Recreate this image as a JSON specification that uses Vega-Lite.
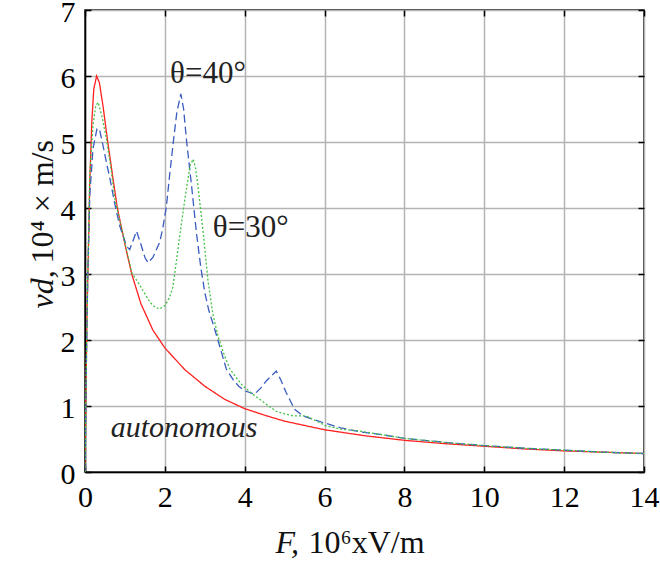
{
  "$schema": "https://vega.github.io/schema/vega-lite/v6.json",
  "width": 559,
  "height": 462,
  "autosize": {"type": "none"},
  "padding": {"left": 85, "top": 10, "right": 16, "bottom": 91},
  "background": "white",
  "config": {
    "view": {"stroke": "black", "strokeWidth": 1.5},
    "font": "Liberation Serif",
    "axis": {
      "labelFont": "Liberation Serif",
      "titleFont": "Liberation Serif",
      "labelFontSize": 30,
      "titleFontSize": 32,
      "labelColor": "black",
      "titleColor": "#111",
      "titleFontWeight": "normal",
      "domainColor": "black",
      "domainWidth": 1.5,
      "gridColor": "#b4b4b4",
      "gridWidth": 1.5,
      "gridOpacity": 1,
      "tickColor": "black",
      "tickWidth": 1.5
    }
  },
  "resolve": {"axis": {"x": "independent", "y": "independent"}},
  "datasets": {
    "curves": [
      {"s": "autonomous", "x": 0, "y": 0},
      {"s": "autonomous", "x": 0.02, "y": 1.0},
      {"s": "autonomous", "x": 0.05, "y": 2.4},
      {"s": "autonomous", "x": 0.08, "y": 3.2},
      {"s": "autonomous", "x": 0.12, "y": 4.4},
      {"s": "autonomous", "x": 0.17, "y": 5.3},
      {"s": "autonomous", "x": 0.22, "y": 5.8},
      {"s": "autonomous", "x": 0.29, "y": 6.0},
      {"s": "autonomous", "x": 0.36, "y": 5.9},
      {"s": "autonomous", "x": 0.45, "y": 5.55},
      {"s": "autonomous", "x": 0.57, "y": 5.0},
      {"s": "autonomous", "x": 0.7, "y": 4.45},
      {"s": "autonomous", "x": 0.81, "y": 4.0},
      {"s": "autonomous", "x": 1.0, "y": 3.45},
      {"s": "autonomous", "x": 1.17, "y": 3.0},
      {"s": "autonomous", "x": 1.4, "y": 2.55},
      {"s": "autonomous", "x": 1.7, "y": 2.15},
      {"s": "autonomous", "x": 2.0, "y": 1.88},
      {"s": "autonomous", "x": 2.5, "y": 1.55},
      {"s": "autonomous", "x": 3.0, "y": 1.3},
      {"s": "autonomous", "x": 3.5, "y": 1.1},
      {"s": "autonomous", "x": 4.0, "y": 0.96},
      {"s": "autonomous", "x": 4.5, "y": 0.86},
      {"s": "autonomous", "x": 5.0, "y": 0.77},
      {"s": "autonomous", "x": 6.0, "y": 0.64},
      {"s": "autonomous", "x": 7.0, "y": 0.55},
      {"s": "autonomous", "x": 8.0, "y": 0.48},
      {"s": "autonomous", "x": 9.0, "y": 0.43},
      {"s": "autonomous", "x": 10.0, "y": 0.39},
      {"s": "autonomous", "x": 11.0, "y": 0.35},
      {"s": "autonomous", "x": 12.0, "y": 0.32},
      {"s": "autonomous", "x": 13.0, "y": 0.3},
      {"s": "autonomous", "x": 14.0, "y": 0.28},

      {"s": "theta40", "x": 0, "y": 0},
      {"s": "theta40", "x": 0.03, "y": 1.5},
      {"s": "theta40", "x": 0.07, "y": 3.0},
      {"s": "theta40", "x": 0.12, "y": 4.2},
      {"s": "theta40", "x": 0.2, "y": 4.9},
      {"s": "theta40", "x": 0.3, "y": 5.2},
      {"s": "theta40", "x": 0.36, "y": 5.2},
      {"s": "theta40", "x": 0.45, "y": 4.95},
      {"s": "theta40", "x": 0.55, "y": 4.65},
      {"s": "theta40", "x": 0.63, "y": 4.43},
      {"s": "theta40", "x": 0.75, "y": 4.05},
      {"s": "theta40", "x": 0.87, "y": 3.73},
      {"s": "theta40", "x": 1.04, "y": 3.42},
      {"s": "theta40", "x": 1.12, "y": 3.37},
      {"s": "theta40", "x": 1.2, "y": 3.5},
      {"s": "theta40", "x": 1.29, "y": 3.65},
      {"s": "theta40", "x": 1.4, "y": 3.45},
      {"s": "theta40", "x": 1.5, "y": 3.25},
      {"s": "theta40", "x": 1.58, "y": 3.17},
      {"s": "theta40", "x": 1.7, "y": 3.25},
      {"s": "theta40", "x": 1.87, "y": 3.48},
      {"s": "theta40", "x": 1.95, "y": 3.7},
      {"s": "theta40", "x": 2.04, "y": 4.03},
      {"s": "theta40", "x": 2.12, "y": 4.5},
      {"s": "theta40", "x": 2.21, "y": 4.99},
      {"s": "theta40", "x": 2.3, "y": 5.45},
      {"s": "theta40", "x": 2.4, "y": 5.73},
      {"s": "theta40", "x": 2.47, "y": 5.5},
      {"s": "theta40", "x": 2.54, "y": 5.04},
      {"s": "theta40", "x": 2.67, "y": 4.33},
      {"s": "theta40", "x": 2.79, "y": 3.63},
      {"s": "theta40", "x": 2.9, "y": 3.1},
      {"s": "theta40", "x": 3.0, "y": 2.72},
      {"s": "theta40", "x": 3.1, "y": 2.45},
      {"s": "theta40", "x": 3.25, "y": 2.16},
      {"s": "theta40", "x": 3.4, "y": 1.85},
      {"s": "theta40", "x": 3.54, "y": 1.56},
      {"s": "theta40", "x": 3.71, "y": 1.4},
      {"s": "theta40", "x": 3.85, "y": 1.3},
      {"s": "theta40", "x": 4.0, "y": 1.23},
      {"s": "theta40", "x": 4.25, "y": 1.18},
      {"s": "theta40", "x": 4.4, "y": 1.27},
      {"s": "theta40", "x": 4.54, "y": 1.38},
      {"s": "theta40", "x": 4.79, "y": 1.53},
      {"s": "theta40", "x": 4.9, "y": 1.4},
      {"s": "theta40", "x": 5.04, "y": 1.2},
      {"s": "theta40", "x": 5.25, "y": 0.95},
      {"s": "theta40", "x": 5.46, "y": 0.85},
      {"s": "theta40", "x": 5.7, "y": 0.8},
      {"s": "theta40", "x": 5.96, "y": 0.75},
      {"s": "theta40", "x": 6.4, "y": 0.67},
      {"s": "theta40", "x": 6.875, "y": 0.61},
      {"s": "theta40", "x": 7.5, "y": 0.56},
      {"s": "theta40", "x": 8.0, "y": 0.51},
      {"s": "theta40", "x": 9.0, "y": 0.45},
      {"s": "theta40", "x": 10.0, "y": 0.4},
      {"s": "theta40", "x": 11.0, "y": 0.36},
      {"s": "theta40", "x": 12.0, "y": 0.33},
      {"s": "theta40", "x": 13.0, "y": 0.3},
      {"s": "theta40", "x": 14.0, "y": 0.28},

      {"s": "theta30", "x": 0, "y": 0},
      {"s": "theta30", "x": 0.03, "y": 1.5},
      {"s": "theta30", "x": 0.07, "y": 3.0},
      {"s": "theta30", "x": 0.12, "y": 4.5},
      {"s": "theta30", "x": 0.2, "y": 5.25},
      {"s": "theta30", "x": 0.27, "y": 5.55},
      {"s": "theta30", "x": 0.33, "y": 5.6},
      {"s": "theta30", "x": 0.42, "y": 5.4},
      {"s": "theta30", "x": 0.54, "y": 5.04},
      {"s": "theta30", "x": 0.65, "y": 4.6},
      {"s": "theta30", "x": 0.75, "y": 4.13},
      {"s": "theta30", "x": 0.96, "y": 3.58},
      {"s": "theta30", "x": 1.17, "y": 3.02},
      {"s": "theta30", "x": 1.33, "y": 2.87},
      {"s": "theta30", "x": 1.45, "y": 2.75},
      {"s": "theta30", "x": 1.63, "y": 2.57},
      {"s": "theta30", "x": 1.75, "y": 2.5},
      {"s": "theta30", "x": 1.87, "y": 2.47},
      {"s": "theta30", "x": 2.0, "y": 2.52},
      {"s": "theta30", "x": 2.12, "y": 2.65},
      {"s": "theta30", "x": 2.2, "y": 2.8},
      {"s": "theta30", "x": 2.29, "y": 3.2},
      {"s": "theta30", "x": 2.4, "y": 3.7},
      {"s": "theta30", "x": 2.5, "y": 4.13},
      {"s": "theta30", "x": 2.63, "y": 4.64},
      {"s": "theta30", "x": 2.71, "y": 4.74},
      {"s": "theta30", "x": 2.77, "y": 4.6},
      {"s": "theta30", "x": 2.83, "y": 4.33},
      {"s": "theta30", "x": 2.96, "y": 3.63},
      {"s": "theta30", "x": 3.08, "y": 2.9},
      {"s": "theta30", "x": 3.2, "y": 2.4},
      {"s": "theta30", "x": 3.33, "y": 2.06},
      {"s": "theta30", "x": 3.5, "y": 1.75},
      {"s": "theta30", "x": 3.63, "y": 1.56},
      {"s": "theta30", "x": 3.8, "y": 1.42},
      {"s": "theta30", "x": 3.96, "y": 1.3},
      {"s": "theta30", "x": 4.2, "y": 1.18},
      {"s": "theta30", "x": 4.38, "y": 1.1},
      {"s": "theta30", "x": 4.6, "y": 1.0},
      {"s": "theta30", "x": 4.79, "y": 0.92},
      {"s": "theta30", "x": 5.0, "y": 0.88},
      {"s": "theta30", "x": 5.21, "y": 0.85},
      {"s": "theta30", "x": 5.54, "y": 0.85},
      {"s": "theta30", "x": 5.8, "y": 0.77},
      {"s": "theta30", "x": 6.04, "y": 0.7},
      {"s": "theta30", "x": 6.4, "y": 0.65},
      {"s": "theta30", "x": 6.875, "y": 0.62},
      {"s": "theta30", "x": 7.5, "y": 0.56},
      {"s": "theta30", "x": 8.0, "y": 0.51},
      {"s": "theta30", "x": 9.0, "y": 0.45},
      {"s": "theta30", "x": 10.0, "y": 0.4},
      {"s": "theta30", "x": 11.0, "y": 0.36},
      {"s": "theta30", "x": 12.0, "y": 0.33},
      {"s": "theta30", "x": 13.0, "y": 0.3},
      {"s": "theta30", "x": 14.0, "y": 0.28}
    ],
    "thetaLabels": [
      {"label": "θ=40°", "x": 3.08, "y": 5.9},
      {"label": "θ=30°", "x": 4.15, "y": 3.56}
    ],
    "italicLabels": [
      {"label": "autonomous", "x": 2.48, "y": 0.53}
    ]
  },
  "layer": [
    {
      "data": {"name": "curves"},
      "mark": {"type": "line", "strokeWidth": 1.3, "clip": true},
      "encoding": {
        "x": {
          "field": "x", "type": "quantitative",
          "scale": {"domain": [0, 14], "nice": false, "zero": false},
          "axis": {
            "orient": "bottom",
            "values": [0, 2, 4, 6, 8, 10, 12, 14], "format": "d",
            "title": "10⁶xV/m",
            "grid": true, "ticks": true, "tickSize": -6, "labelPadding": 16,
            "labelFlush": false, "labelOverlap": false,
            "titleX": 223, "titleY": 80, "titleAnchor": "start", "titleAlign": "left", "titleBaseline": "alphabetic"
          }
        },
        "y": {
          "field": "y", "type": "quantitative",
          "scale": {"domain": [0, 7], "nice": false, "zero": false},
          "axis": {
            "orient": "left",
            "values": [0, 1, 2, 3, 4, 5, 6, 7], "format": "d",
            "title": "10⁴ × m/s",
            "grid": true, "ticks": true, "tickSize": -6, "labelPadding": 16,
            "labelFlush": false, "labelOverlap": false, "labelOffset": 2,
            "titleX": -33, "titleY": 253, "titleAngle": -90, "titleAnchor": "start", "titleAlign": "left", "titleBaseline": "alphabetic"
          }
        },
        "color": {
          "field": "s", "type": "nominal",
          "scale": {"domain": ["autonomous", "theta40", "theta30"], "range": ["#ff2020", "#3a5bc0", "#44c044"]},
          "legend": null
        },
        "strokeDash": {
          "field": "s", "type": "nominal",
          "scale": {"domain": ["autonomous", "theta40", "theta30"], "range": [[1, 0], [8, 4], [2, 2]]},
          "legend": null
        },
        "order": {"field": "x", "type": "quantitative"}
      }
    },
    {
      "data": {"name": "thetaLabels"},
      "mark": {"type": "text", "fontSize": 31, "font": "Liberation Serif", "color": "#222", "align": "center", "baseline": "alphabetic"},
      "encoding": {
        "x": {
          "field": "x", "type": "quantitative",
          "axis": {
            "orient": "bottom", "labels": false, "ticks": false, "domain": false, "grid": false,
            "title": "F,", "titleFontStyle": "italic",
            "titleX": 190, "titleY": 80, "titleAnchor": "start", "titleAlign": "left", "titleBaseline": "alphabetic"
          }
        },
        "y": {
          "field": "y", "type": "quantitative",
          "axis": {
            "orient": "left", "labels": false, "ticks": false, "domain": false, "grid": false,
            "title": "vd,", "titleFontStyle": "italic",
            "titleX": -33, "titleY": 298, "titleAngle": -90, "titleAnchor": "start", "titleAlign": "left", "titleBaseline": "alphabetic"
          }
        },
        "text": {"field": "label"}
      }
    },
    {
      "data": {"name": "italicLabels"},
      "mark": {"type": "text", "fontSize": 30, "font": "Liberation Serif", "fontStyle": "italic", "color": "#222", "align": "center", "baseline": "alphabetic"},
      "encoding": {
        "x": {
          "field": "x", "type": "quantitative",
          "axis": {
            "orient": "top", "values": [0, 2, 4, 6, 8, 10, 12, 14], "labels": false, "ticks": true, "tickSize": -6, "domain": false, "grid": false, "title": null
          }
        },
        "y": {
          "field": "y", "type": "quantitative",
          "axis": {
            "orient": "right", "values": [0, 1, 2, 3, 4, 5, 6, 7], "labels": false, "ticks": true, "tickSize": -6, "domain": false, "grid": false, "title": null
          }
        },
        "text": {"field": "label"}
      }
    }
  ]
}
